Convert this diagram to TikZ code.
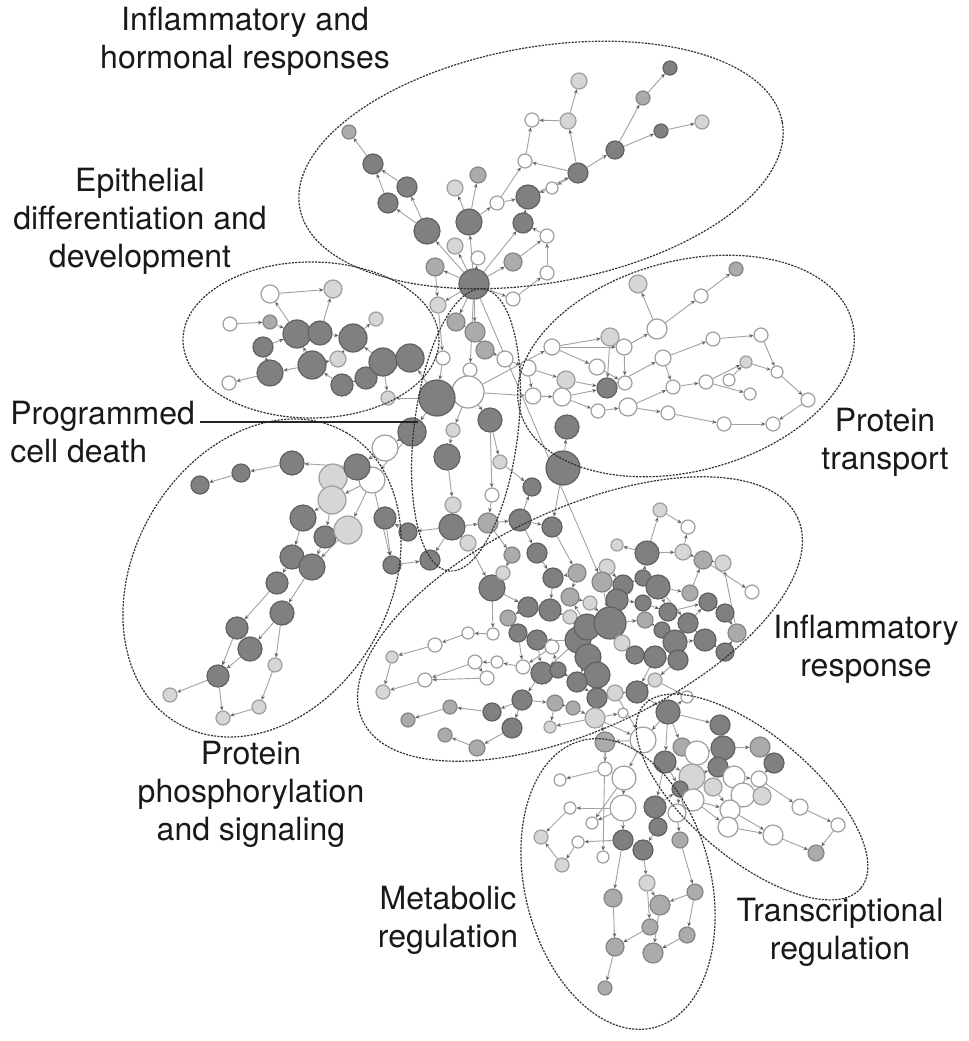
\documentclass[tikz,border=0pt]{standalone}
\usepackage{fontspec}
\setmainfont{TeX Gyre Heros}
\usetikzlibrary{arrows.meta,backgrounds}
\begin{document}
\begin{tikzpicture}[x=0.75pt,y=-0.75pt,
  nd/.style={circle, inner sep=0pt, line width=0.9pt},
  nD/.style={nd, draw=black!62, fill=black!50},
  nM/.style={nd, draw=black!48, fill=black!33},
  nL/.style={nd, draw=black!38, fill=black!16},
  nW/.style={nd, draw=black!38, fill=white},
  rad/.style={minimum size=#1*1.5pt},
  ed/.style={draw=black!36, line width=0.7pt, -{Stealth[length=3.2pt,width=2.8pt,color=black!62]}},
  grp/.style={draw=black!80, line width=0.9pt, dash pattern=on 1.6pt off 0.9pt},
  lbl/.style={font=\fontsize{24}{28.5}\selectfont, align=center, text=black!90, inner sep=0pt}]
\useasboundingbox (0,0) rectangle (969,1041);

% ---------- nodes ----------
\foreach \n/\x/\y/\rr/\cl in {
 a1/349/132/7/nM, a2/373/164/10/nD, a3/407/187/10/nD, a4/388/203/10/nD, a5/427/231/13/nD,
 a6/455/188/8/nL, a7/478/175/8/nM, a8/469/222/13/nD, a9/497/203/7/nW, a10/528/197/12/nD,
 a11/523/223/10/nD, a12/525/161/7/nW, a13/552/188/6/nW, a14/532/120/7/nW, a15/568/121/8/nL,
 a16/578/173/10/nD, a17/547/236/7/nW, a18/547/273/7/nW, a19/513/262/9/nM, a20/478/258/7/nW,
 a21/455/246/8/nL, a22/435/267/9/nM, a23/474/284/15/nD, a24/513/299/7/nW, a25/579/81/8/nL,
 a26/670/68/7/nD, a27/643/98/7/nM, a28/661/131/7/nD, a29/702/122/7/nL, a30/615/150/9/nD,
 b1/270/294/9/nW, b2/333/289/9/nL, b3/230/324/7/nW, b4/270/322/7/nM, b5/297/334/14/nD,
 b6/320/333/12/nD, b7/353/338/14/nD, b8/376/319/7/nL, b9/263/347/10/nD, b10/312/365/14/nD,
 b11/338/359/8/nL, b12/270/373/13/nD, b13/229/383/7/nW, b14/342/385/11/nD, b15/366/378/11/nD,
 b16/383/362/14/nD, b17/410/358/14/nD, b18/388/398/7/nL,
 c1/438/305/8/nL, c2/456/322/9/nM, c3/475/332/10/nM, c4/485/350/9/nM, c5/505/359/8/nW,
 c6/443/358/7/nW, c7/470/370/7/nW, c9/468/392/16/nW, c8/437/398/18/nD, c10/490/420/12/nD,
 c11/412/432/14/nD, c12/453/430/7/nL, c13/447/457/13/nD, c14/500/462/7/nL, c15/532/487/9/nD,
 c16/492/495/7/nW, c17/453/505/8/nL, c18/452/527/13/nD, c19/488/523/10/nM, c20/520/520/11/nD,
 c21/408/532/9/nD, c22/385/518/11/nD, c23/468/543/8/nL, c24/512/555/8/nM, c25/537/553/10/nD,
 d1/292/463/12/nD, d2/241/473/9/nD, d3/200/485/9/nD, d7/385/448/13/nW, d6/372/480/13/nW,
 d5/333/478/14/nL, d4/357/467/13/nD, d8/332/500/14/nL, d9/303/518/13/nD, d10/325/537/11/nD,
 d11/348/530/14/nL, d13/392/565/9/nD, d14/292/557/12/nD, d15/312/567/13/nD, d16/277/583/11/nD,
 d17/282/613/12/nD, d18/237/628/11/nD, d19/250/649/12/nD, d20/275/665/7/nL, d21/218/676/11/nD,
 d22/170/695/7/nL, d23/223/718/7/nL, d24/259/707/7/nL,
 e1/638/284/9/nL, e2/736/269/7/nM, e3/701/296/7/nW, e4/657/329/10/nW, e5/610/337/9/nL,
 e6/624/347/8/nW, e7/552/347/8/nW, e8/597/367/8/nW, e9/663/358/8/nW, e10/713/339/7/nW,
 e11/761/335/7/nW, e12/528/368/8/nW, e13/566/380/9/nL, e14/607/388/10/nD, e15/625/383/7/nW,
 e16/673/387/7/nW, e17/706/382/7/nW, e18/729/380/6/nW, e19/746/362/6/nL, e20/750/394/6/nW,
 e21/777/372/6/nW, e22/808/400/7/nW, e23/533/396/8/nW, e24/562/397/9/nW, e25/598/411/7/nW,
 e26/628/407/9/nW, e27/668/413/7/nW, e28/724/424/7/nW, e29/773/424/7/nW, e30/567/427/12/nD,
 e31/563/468/17/nD,
 f1/552/527/10/nD, f2/430/560/10/nD, f6/660/510/7/nL, f7/688/527/7/nW, f8/617/545/6/nL,
 f9/647/553/12/nD, f10/683/552/8/nL, f11/703/560/9/nM, f12/723/563/8/nL, f13/492/588/13/nD,
 f14/503/573/7/nL, f15/553/578/10/nD, f16/577/573/9/nM, f17/607/567/8/nL, f18/602/582/10/nM,
 f19/623/585/10/nD, f20/643/578/8/nD, f21/658/587/12/nD, f22/690/593/8/nM, f23/752/592/7/nW,
 f24/528/607/10/nD, f25/550/610/11/nD, f26/570/597/9/nM, f27/590/603/7/nL, f28/570/617/7/nL,
 f29/617/600/11/nD, f30/643/603/8/nD, f31/668/612/9/nD, f32/708/602/9/nD, f33/725/613/9/nD,
 f34/508/618/8/nM, f35/518/633/9/nD, f36/537/640/10/nD, f39/578/640/13/nD, f37/587/627/13/nD,
 f38/610/623/16/nD, f40/622/643/8/nL, f41/635/655/9/nD, f42/645/620/8/nM, f43/662/630/8/nD,
 f44/675/642/12/nD, f45/688/623/10/nD, f46/705/640/11/nD, f47/737/633/9/nM, f48/725/652/9/nD,
 f49/655/657/11/nD, f50/678/660/10/nD, f51/588/657/13/nD, f52/597/675/13/nD, f53/542/673/11/nD,
 f54/558/670/8/nD, f55/577/682/10/nD, f56/597/698/10/nD, f57/615/693/8/nL, f58/637/692/11/nD,
 f59/655/680/7/nL, f60/522/700/10/nD, f61/555/703/8/nM, f62/573/708/7/nM, f63/595/718/10/nL,
 f64/550/727/6/nL, f65/623/713/5/nW, f66/668/712/12/nD, f67/512/728/10/nD, f68/492/712/9/nD,
 f69/450/707/7/nM, f70/408/720/7/nM, f71/445/735/7/nM, f72/477/748/8/nM, f73/392/657/6/nL,
 f74/383/692/7/nL, f75/435/645/7/nW, f76/425/680/7/nW, f77/468/633/6/nW, f78/493/634/6/nW,
 f79/475/662/7/nW, f80/497/662/6/nW, f81/523/667/7/nW, f82/487/678/7/nW, f83/552/647/7/nW,
 f84/687/697/6/nW,
 g1/720/725/10/nD, g2/605/742/10/nM, g3/643/740/13/nW, g4/682/747/9/nM, g5/697/753/12/nW,
 g6/723/748/12/nD, g7/760/747/10/nM, g8/774/763/10/nD, g9/605/769/7/nW, g10/624/778/12/nW,
 g11/665/762/11/nD, g12/692/777/13/nL, g13/718/767/10/nD, g14/734/777/11/nW, g15/759/779/8/nW,
 g16/680/789/8/nD, g17/713/787/9/nL, g18/743/795/12/nW, g19/762/796/9/nL, g20/693/800/11/nW,
 g21/623/808/13/nW, g22/655/807/11/nD, g23/677/813/9/nW, g24/730/810/10/nW, g25/800/807/8/nW,
 g26/658/827/9/nD, g27/728/827/10/nW, g28/592/823/6/nW, g29/773/835/10/nW, g30/838/825/7/nW,
 g31/680/840/8/nM, g32/623/840/10/nD, g33/643/850/10/nD, g34/603/857/6/nW, g35/816/853/8/nM,
 g36/560/780/6/nW, g37/570/808/6/nW, g38/541/837/7/nL, g39/578/842/6/nW, g40/562/865/7/nL,
 g41/647/883/8/nL, g42/613/898/9/nM, g43/660/905/10/nM, g44/695/892/8/nM, g45/650/927/8/nM,
 g46/687/935/8/nM, g47/615/947/9/nM, g48/653/953/10/nM, g49/605/988/7/nM}
  \node[\cl, rad=\rr] (\n) at (\x,\y) {};

% ---------- connectors ----------
\begin{pgfonlayer}{background}
\foreach \s/\t in {
 a23/a5, a5/a3, a5/a4, a4/a2, a3/a2, a2/a1, a23/a8, a8/a6, a8/a7, a23/a20, a8/a9, a9/a10,
 a23/a11, a11/a10, a9/a12, a12/a14, a15/a14, a15/a25, a16/a15, a16/a12, a16/a13, a13/a10,
 a16/a30, a30/a27, a27/a26, a30/a28, a28/a29, a23/a19, a19/a17, a17/a11, a18/a17, a23/a22,
 a23/a21, a23/a24, a24/a18, a10/a16,
 b5/b1, b1/b2, b3/b4, b4/b5, b6/b2, b5/b6, b6/b7, b7/b8, b9/b5, b12/b9, b12/b13, b10/b12,
 b10/b5, b10/b11, b11/b7, b14/b10, b15/b14, b16/b15, b17/b16, b16/b18, b16/b7, c8/b17, c8/b18,
 a23/c1, a23/c2, c2/c3, a23/c3, c3/c4, c4/c5, a23/c7, c1/c6, c6/c8, c7/c9, c8/c9, c8/c11,
 c9/c10, c9/c12, c12/c13, c10/c14, c14/c15, c13/c17, c17/c18, c16/c19, c18/c19, c19/c20,
 c20/c15, c18/c21, c21/c22, c18/c23, c20/c25, c19/c24, c10/c16, a22/c1,
 c11/d7, d7/d4, d4/d1, d1/d2, d2/d3, d4/d5, d6/d8, d5/d8, d8/d9, d8/d10, d6/d11, d11/d15,
 d9/d14, d10/d15, d14/d16, d16/d18, d15/d17, d17/d19, d18/d21, d19/d21, d21/d22, d17/d20,
 d20/d24, d24/d23, d21/d23, d6/d13, c22/d13, c11/d6,
 e4/e1, e4/e3, e3/e2, e7/e6, e7/e8, e5/e14, e6/e4, e6/e15, e9/e10, e10/e11, e11/e21, e9/e16,
 e16/e17, e17/e19, e18/e19, e19/e21, e21/e22, e22/e29, e28/e29, e27/e28, e26/e27, e17/e20,
 e14/e9, e12/e13, e12/e23, e13/e14, e24/e25, e24/e14, e23/e24, e31/e30, e25/e26, e8/e15,
 e26/e16, c9/e23, c5/e12, c9/e7, e7/e5,
 a23/f18, e31/f1, c20/f1, c25/f15, c24/f14, f14/f13, c23/f13, c18/f2, d13/f2,
 f38/f29, f38/f37, f38/f42, f38/f40, f37/f26, f37/f39, f39/f36, f39/f51, f51/f52, f52/f56,
 f52/f55, f38/f19, f19/f20, f20/f9, f9/f8, f9/f6, f9/f10, f10/f7, f11/f12, f21/f22, f22/f11,
 f21/f31, f31/f32, f32/f33, f33/f47, f47/f12, f45/f46, f46/f48, f44/f50, f43/f44, f49/f50,
 f41/f49, f40/f41, f29/f30, f30/f31, f18/f17, f16/f15, f15/f25, f25/f24, f24/f34, f34/f35,
 f35/f36, f36/f53, f53/f54, f54/f55, f55/f56, f56/f57, f57/f58, f58/f59, f56/f63, f63/f64,
 f63/f65, f61/f62, f60/f61, f13/f24, f1/f16, f16/f26, f26/f27, f27/f38, f28/f37, f25/f28,
 f18/f38, f17/f19, f21/f45, f45/f32, f44/f46, f42/f43, f30/f42, f20/f21, f6/f7, f11/f23,
 f48/f47, f50/f59, f49/f58, f51/f55, f39/f53, f53/f60, f60/f68, f68/f69, f69/f70, f60/f67,
 f67/f72, f72/f71, f13/f78, f77/f75, f75/f73, f73/f74, f82/f76, f76/f74, f79/f76, f78/f77,
 f80/f79, f81/f80, f83/f81, f36/f83, f35/f81, f54/f83, f79/f82, f61/f64, f62/f63, f66/f84,
 f58/f66, f59/f84, f10/f11,
 f66/g1, f66/g11, f66/g4, f66/g3, g1/g6, g6/g7, g7/g8, g5/g6, g3/g2, g2/g9, g3/g10, g9/g36,
 g11/g12, g12/g17, g13/g14, g14/g15, g8/g15, g15/g25, g18/g24, g25/g30, g30/g35, g29/g35,
 g24/g29, g27/g29, g20/g27, g21/g28, g21/g37, g21/g32, g22/g26, g26/g33, g32/g42, g33/g41,
 g41/g43, g42/g47, g47/g49, g43/g48, g41/g45, g44/g43, g44/g46, g46/g48, g45/g47, g40/g38,
 g39/g40, g37/g38, g32/g39, g10/g21, g11/g22, g12/g20, g16/g23, g23/g31, g31/g44, g22/g16,
 g13/g19, g19/g18, g17/g24, g20/g24, g12/g13, g4/g5, g5/g12, f63/g3, f56/g2, f57/g3, g11/g16,
 g2/g34, g10/g28}
  \draw[ed] (\s) -- (\t);
\end{pgfonlayer}

% ---------- groups ----------
\draw[grp, rotate around={10:(541,165)}] (541,165) ellipse [x radius=245, y radius=118];
\draw[grp] (311,340) ellipse [x radius=128, y radius=78];
\draw[grp, rotate around={83:(466,430)}] (466,430) ellipse [x radius=142, y radius=52];
\draw[grp, rotate around={15:(686,366)}] (686,366) ellipse [x radius=172, y radius=105];
\draw[grp, rotate around={60:(262,578)}] (262,578) ellipse [x radius=168, y radius=128];
\draw[grp, rotate around={25:(580,619)}] (580,619) ellipse [x radius=240, y radius=110];
\draw[grp, rotate around={104:(618,884)}] (618,884) ellipse [x radius=148, y radius=93];
\draw[grp, rotate around={-40:(752,797)}] (752,797) ellipse [x radius=142, y radius=62];

% ---------- labels ----------
\node[lbl] (L1) at (245,41) {Inflammatory and\\hormonal responses};
\node[lbl] (L2) at (140,221) {Epithelial\\differentiation and\\development};
\node[lbl, align=left, anchor=west] (L3) at (10,432) {Programmed\\cell death};
\node[lbl] (L4) at (885,442) {Protein\\transport};
\node[lbl] (L5) at (866,649) {Inflammatory\\response};
\node[lbl] (L6) at (251,794) {Protein\\phosphorylation\\and signaling};
\node[lbl] (L7) at (448,920) {Metabolic\\regulation};
\node[lbl] (L8) at (840,932) {Transcriptional\\regulation};
\coordinate (pA) at (200,422);
\coordinate (pB) at (418,422);
\draw[line width=1.1pt, black!85] (pA) -- (pB);
\end{tikzpicture}
\end{document}
